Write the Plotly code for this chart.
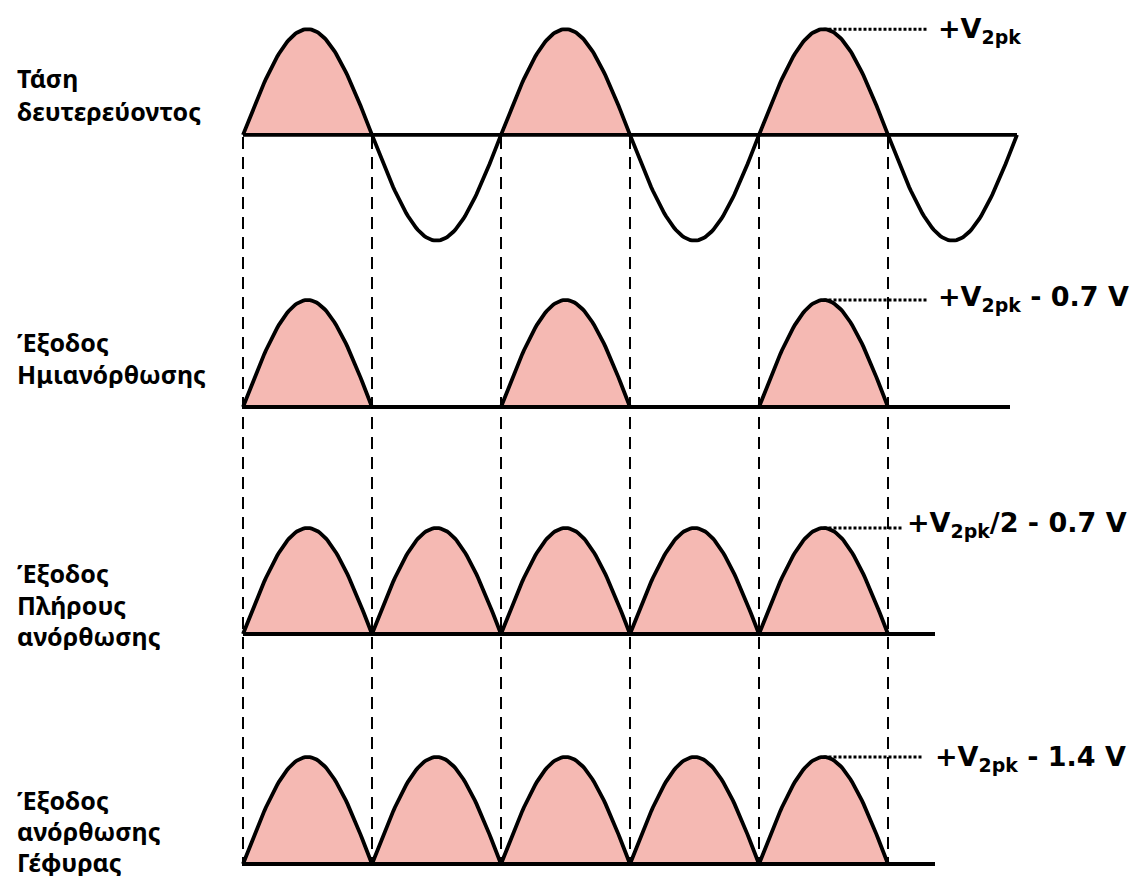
import numpy as np
import plotly.graph_objects as go

# ---------------- data ----------------
# polarity / relative amplitude of each half-cycle (one entry per half period)
secondary_voltage = [1, -1, 1, -1, 1, -1]
half_wave_output = [1, 0, 1, 0, 1, 0]
full_wave_output = [1, 1, 1, 1, 1]
bridge_output = [1, 1, 1, 1, 1]
waveforms = [secondary_voltage, half_wave_output, full_wave_output, bridge_output]

peak_labels = [
    "+V<sub>2pk</sub>",
    "+V<sub>2pk</sub> - 0.7 V",
    "+V<sub>2pk</sub>/2 - 0.7 V",
    "+V<sub>2pk</sub> - 1.4 V",
]
row_labels = [
    ["Τάση", "δευτερεύοντος"],
    ["Έξοδος", "Ημιανόρθωσης"],
    ["Έξοδος", "Πλήρους", "ανόρθωσης"],
    ["Έξοδος", "ανόρθωσης", "Γέφυρας"],
]
crossings = [0, 1, 2, 3, 4, 5]

# ---------------- layout constants ----------------
OFF = 8  # default page margin of the html body
W, H = 1141 - OFF, 877 - OFF
X0_PX, HALF_PX = 243 - OFF, 129.0
x_range = [(0 - X0_PX) / HALF_PX, (W - X0_PX) / HALF_PX]

def xpx(px):
    return (px - OFF - X0_PX) / HALF_PX

def ypaper(py):
    return 1 - (py - OFF) / H

panels = [
    dict(base=131, amp=109, lo=-1.2, hi=1.2, end=xpx(1017), dot_end=xpx(927), text_x=xpx(936), text_dy=-0.01),
    dict(base=407, amp=107, lo=-0.3, hi=1.2, end=xpx(1010), dot_end=xpx(927), text_x=xpx(936), text_dy=0.01),
    dict(base=634, amp=106, lo=-0.3, hi=1.2, end=xpx(935), dot_end=xpx(903), text_x=xpx(905), text_dy=0.03),
    dict(base=864, amp=107, lo=-0.12, hi=1.2, end=xpx(935), dot_end=xpx(923), text_x=xpx(933), text_dy=-0.01),
]
label_centers = [[77, 111], [341, 373], [572, 604, 635], [799, 830, 861]]

PINK = "#F5B9B3"
LW = 3.8

fig = go.Figure()
t = np.linspace(0, 1, 80)

for i, (wave, p) in enumerate(zip(waveforms, panels)):
    yname = "y" if i == 0 else f"y{i+1}"
    for k, v in enumerate(wave):
        if v > 0:
            fig.add_trace(go.Scatter(x=k + t, y=v * np.sin(np.pi * t), xaxis="x", yaxis=yname,
                                     mode="lines", fill="toself", fillcolor=PINK,
                                     line=dict(width=0), hoverinfo="skip", showlegend=False))
    fig.add_trace(go.Scatter(x=[0, p["end"]], y=[0, 0], xaxis="x", yaxis=yname, mode="lines",
                             line=dict(color="black", width=LW), hoverinfo="skip", showlegend=False))
    for k, v in enumerate(wave):
        if v != 0:
            fig.add_trace(go.Scatter(x=k + t, y=v * np.sin(np.pi * t), xaxis="x", yaxis=yname,
                                     mode="lines", line=dict(color="black", width=LW),
                                     hoverinfo="skip", showlegend=False))
    peak_x = 4.5
    fig.add_trace(go.Scatter(x=[peak_x, p["dot_end"]], y=[1, 1], xaxis="x", yaxis=yname, mode="lines",
                             line=dict(color="black", width=3, dash="3px,2px"),
                             hoverinfo="skip", showlegend=False))
    fig.add_annotation(x=p["text_x"], y=1 + p["text_dy"], xref="x", yref=yname,
                       text="<b>" + peak_labels[i] + "</b>",
                       showarrow=False, xanchor="left", yanchor="middle",
                       font=dict(family="DejaVu Sans", size=27, color="black"))
    for line, cy in zip(row_labels[i], label_centers[i]):
        fig.add_annotation(x=(15 - OFF) / W, y=ypaper(cy), xref="paper", yref="paper",
                           text="<b>" + line + "</b>", height=29,
                           showarrow=False, xanchor="left", yanchor="middle",
                           font=dict(family="Noto Sans", size=25, color="black"))

for c in crossings:
    fig.add_shape(type="line", xref="x", yref="paper", x0=c, x1=c, y0=ypaper(137), y1=ypaper(866),
                  line=dict(color="black", width=2, dash="12px,8px"), layer="above")

layout_axes = {}
for i, p in enumerate(panels):
    top_px = p["base"] - p["hi"] * p["amp"]
    bot_px = p["base"] - p["lo"] * p["amp"]
    key = "yaxis" if i == 0 else f"yaxis{i+1}"
    layout_axes[key] = dict(range=[p["lo"], p["hi"]],
                            domain=[max(0, ypaper(bot_px)), min(1, ypaper(top_px))],
                            visible=False, fixedrange=True, anchor="x")

fig.update_layout(
    width=W, height=H, margin=dict(l=0, r=0, t=0, b=0),
    paper_bgcolor="white", plot_bgcolor="rgba(0,0,0,0)",
    xaxis=dict(range=x_range, domain=[0, 1], visible=False, fixedrange=True),
    showlegend=False,
    **layout_axes,
)

fig.write_html("out.html")
